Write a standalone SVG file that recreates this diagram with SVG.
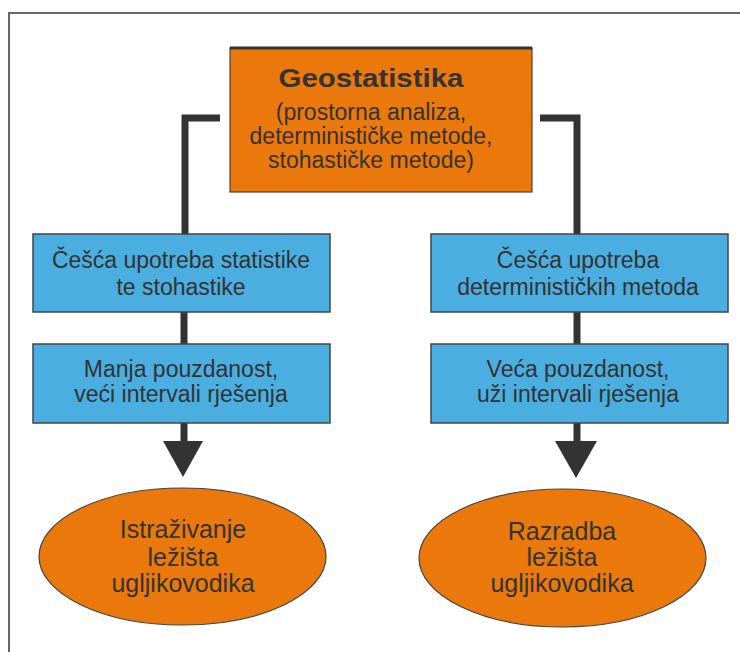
<svg xmlns="http://www.w3.org/2000/svg" width="740" height="652" viewBox="0 0 740 652">
<style>
.t{font-family:"Liberation Sans",Arial,sans-serif;fill:#333333;text-anchor:middle}
.s{font-size:23px}
.e{font-size:25px}
.blue{fill:#4AAEE0;stroke:#444444;stroke-width:1.5}
.org{fill:#EA780A;stroke:#444444;stroke-width:1.2}
.con{fill:none;stroke:#333333;stroke-width:7}
.head{fill:#333333}
</style>
<rect x="0" y="0" width="740" height="652" fill="#ffffff"/>
<rect x="9" y="13" width="760" height="680" fill="none" stroke="#666666" stroke-width="2"/>
<g id="connectors">
<polyline class="con" points="220,118 185,118 185,234"/>
<line class="con" x1="184" y1="312" x2="184" y2="344"/>
<line class="con" x1="184" y1="423" x2="184" y2="444"/>
<polygon class="head" points="163,441 203,441 183,477"/>
<polyline class="con" points="540,118 577,118 577,234"/>
<line class="con" x1="577" y1="312" x2="577" y2="344"/>
<line class="con" x1="577" y1="423" x2="577" y2="444"/>
<polygon class="head" points="555,441 597,441 576,478"/>
</g>
<g id="geostatistika">
<rect class="org" x="230" y="48" width="302" height="144"/>
<line x1="230" y1="48" x2="532" y2="48" stroke="#333333" stroke-width="3"/>
<text class="t" x="371" y="87" font-size="26" font-weight="bold" textLength="185" lengthAdjust="spacingAndGlyphs">Geostatistika</text>
<text class="t s" x="371" y="120">(prostorna analiza,</text>
<text class="t s" x="371" y="144">determinističke metode,</text>
<text class="t s" x="371" y="168">stohastičke metode)</text>
</g>
<g id="left1">
<rect class="blue" x="33" y="234" width="297" height="78"/>
<text class="t s" x="181" y="268">Češća upotreba statistike</text>
<text class="t s" x="181" y="295">te stohastike</text>
</g>
<g id="left2">
<rect class="blue" x="33" y="344" width="297" height="79"/>
<text class="t s" x="181" y="377">Manja pouzdanost,</text>
<text class="t s" x="181" y="402">veći intervali rješenja</text>
</g>
<g id="right1">
<rect class="blue" x="431" y="234" width="297" height="78"/>
<text class="t s" x="578" y="268">Češća upotreba</text>
<text class="t s" x="578" y="295">determinističkih metoda</text>
</g>
<g id="right2">
<rect class="blue" x="431" y="344" width="297" height="79"/>
<text class="t s" x="578" y="377">Veća pouzdanost,</text>
<text class="t s" x="578" y="402">uži intervali rješenja</text>
</g>
<g id="istrazivanje">
<ellipse class="org" cx="182.5" cy="556.5" rx="143.5" ry="68.5"/>
<text class="t e" x="183" y="538">Istraživanje</text>
<text class="t e" x="183" y="566">ležišta</text>
<text class="t e" x="183" y="592">ugljikovodika</text>
</g>
<g id="razradba">
<ellipse class="org" cx="562.5" cy="558" rx="143.5" ry="69"/>
<text class="t e" x="562" y="540">Razradba</text>
<text class="t e" x="562" y="566">ležišta</text>
<text class="t e" x="562" y="592">ugljikovodika</text>
</g>
</svg>
